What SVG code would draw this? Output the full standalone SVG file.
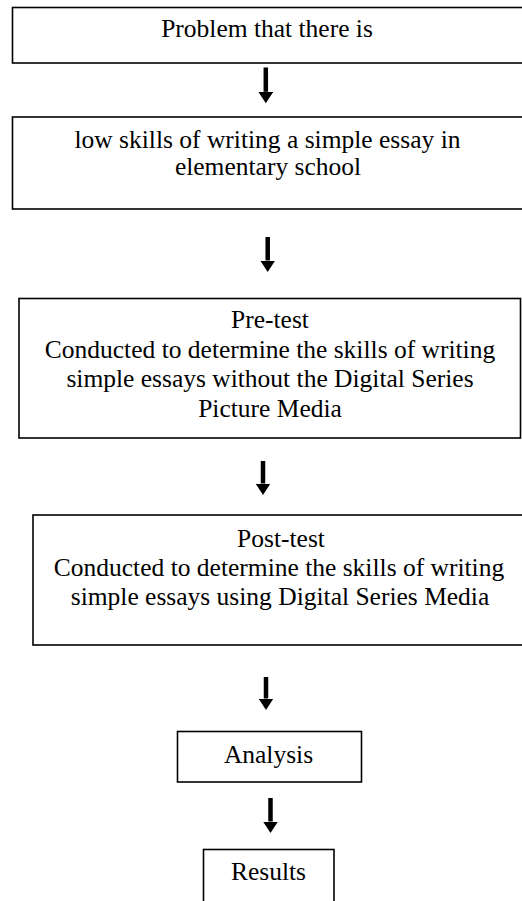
<svg xmlns="http://www.w3.org/2000/svg" width="522" height="901" viewBox="0 0 522 901">
<defs>
<style>
.box{fill:#fff;stroke:#000;stroke-width:1.6}
.t{font-family:"Liberation Serif","Times New Roman",serif;font-size:25.5px;fill:#000;text-anchor:middle}
.arr{stroke:#000;stroke-width:4.5;fill:none}
</style>
<marker id="ah" markerUnits="userSpaceOnUse" markerWidth="12" markerHeight="15" viewBox="0 -7.5 12 15" refX="0" refY="0" orient="auto">
<path d="M0,-7.5 L11.5,0 L0,7.5 Z" fill="#000"/>
</marker>
</defs>
<rect width="522" height="901" fill="#fff"/>
<g id="connectors">
<line class="arr" x1="265.8" y1="67.5" x2="265.8" y2="91.8" marker-end="url(#ah)"/>
<line class="arr" x1="267.7" y1="237" x2="267.7" y2="260.5" marker-end="url(#ah)"/>
<line class="arr" x1="263" y1="461" x2="263" y2="483.5" marker-end="url(#ah)"/>
<line class="arr" x1="266" y1="677" x2="266" y2="698.5" marker-end="url(#ah)"/>
<line class="arr" x1="270.5" y1="798" x2="270.5" y2="821.5" marker-end="url(#ah)"/>
</g>
<g id="n1">
<rect class="box" x="12.5" y="7.5" width="515" height="55.5"/>
<text class="t" x="267" y="37">Problem that there is</text>
</g>
<g id="n2">
<rect class="box" x="12.5" y="117" width="515" height="92"/>
<text class="t" x="267.5" y="148">low skills of writing a simple essay in</text>
<text class="t" x="268" y="175">elementary school</text>
</g>
<g id="n3">
<rect class="box" x="19" y="298.5" width="501.5" height="139.5"/>
<text class="t" x="270" y="328">Pre-test</text>
<text class="t" x="270" y="357.5">Conducted to determine the skills of writing</text>
<text class="t" x="270" y="387">simple essays without the Digital Series</text>
<text class="t" x="270" y="416.5">Picture Media</text>
</g>
<g id="n4">
<rect class="box" x="33" y="515" width="500" height="130"/>
<text class="t" x="281" y="547">Post-test</text>
<text class="t" x="279" y="576">Conducted to determine the skills of writing</text>
<text class="t" x="280" y="605">simple essays using Digital Series Media</text>
</g>
<g id="n5">
<rect class="box" x="177.5" y="731.5" width="184" height="50.5"/>
<text class="t" x="268.5" y="763">Analysis</text>
</g>
<g id="n6">
<rect class="box" x="203.5" y="849.5" width="130.5" height="60"/>
<text class="t" x="268.5" y="880">Results</text>
</g>
</svg>
